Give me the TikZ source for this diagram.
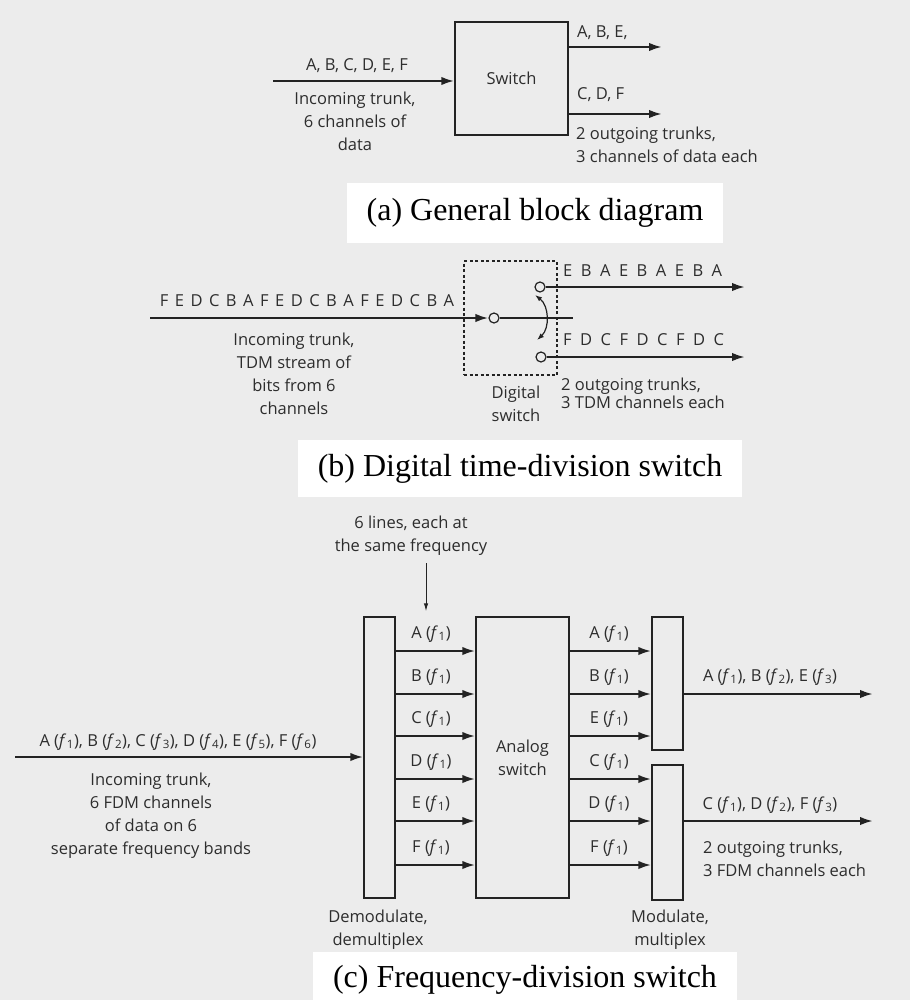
\documentclass[tikz,border=0pt]{standalone}
\usepackage{fontspec}
\setmainfont{Liberation Serif}
\newfontfamily\diagfont{Open Sans}
\usetikzlibrary{arrows.meta,positioning}

\definecolor{pagegray}{RGB}{236,236,236}
\definecolor{inkgray}{RGB}{35,35,35}
\definecolor{textgray}{RGB}{45,45,45}
\newcommand{\fq}[1]{(\textit{f}\kern0.6pt\textsubscript{#1})}

\begin{document}
\begin{tikzpicture}[x=1pt, y=-1pt,
    lbl/.style={font=\diagfont\fontsize{16.5}{23}\selectfont, text=textgray, inner sep=0pt},
    blk/.style={draw=inkgray, line width=1.5pt},
    trunk/.style={draw=inkgray, line width=2.3pt, -{Latex[length=13pt,width=8.5pt]}},
    wire/.style={draw=inkgray, line width=1.6pt},
    port/.style={circle, draw=inkgray, line width=1.2pt, fill=pagegray, minimum size=10pt, inner sep=0pt},
    capbox/.style={fill=white, inner sep=0pt, font=\fontsize{32}{34}\selectfont}]

\fill[pagegray] (0,0) rectangle (910,1000);
\useasboundingbox (0,0) rectangle (910,1000);

% (a) general block diagram
\node[blk, lbl, minimum width=113pt, minimum height=113pt] (sw) at (511.5,78.5) {Switch};
\coordinate (ain) at (273,81);
\coordinate (aout1) at (662,47);
\coordinate (aout2) at (662,114);
\draw[trunk] (ain) -- (ain -| sw.west);
\draw[trunk] (sw.east |- aout1) -- (aout1);
\draw[trunk] (sw.east |- aout2) -- (aout2);
\node[lbl] (ainlbl) at (357,66) {A, B, C, D, E, F};
\node[lbl, align=center] (aintxt) at (355,121) {Incoming trunk,\\6 channels of\\data};
\node[lbl, anchor=west] (aoutlbl1) at (577,33) {A, B, E,};
\node[lbl, anchor=west] (aoutlbl2) at (577,95) {C, D, F};
\node[lbl, anchor=west, align=left] (aouttxt) at (576,145) {2 outgoing trunks,\\3 channels of data each};
\node[capbox, minimum width=376pt, minimum height=60pt] (capa) at (535,213) {(a) General block diagram};

% (b) digital time-division switch
\node[draw=inkgray, line width=1.2pt, dash pattern=on 3pt off 2.5pt, minimum width=93pt, minimum height=114pt] (dsw) at (510.5,318) {};
\node[port] (bsrc) at (494,318) {};
\node[port] (btop) at (540,287) {};
\node[port] (bbot) at (541,357) {};
\coordinate (bin) at (150,318);
\coordinate (bpivot) at (573,318);
\coordinate (bout1) at (745,287);
\coordinate (bout2) at (745,357);
\draw[trunk] (bin) -- (bsrc.west);
\draw[wire] (bsrc.east) -- (bpivot);
\draw[trunk] (btop.east) -- (bout1);
\draw[trunk] (bbot.east) -- (bout2);
\coordinate (arctop) at (535,295);
\coordinate (arcbot) at (537,340);
\draw[wire, line width=1.2pt, {Latex[length=7pt,width=5pt]}-{Latex[length=7pt,width=5pt]}] (arctop) to[bend left=50] (arcbot);
\node[lbl] (bstream) at (307,301) {\spaceskip=6.5pt F E D C B A F E D C B A F E D C B A};
\node[lbl, anchor=west] (bbits1) at (563,271) {\spaceskip=8.5pt E B A E B A E B A};
\node[lbl, anchor=west] (bbits2) at (563,340) {\spaceskip=8.5pt F D C F D C F D C};
\node[lbl, align=center] (bintxt) at (294,374) {Incoming trunk,\\TDM stream of\\bits from 6\\channels};
\node[lbl, align=center] (dswtxt) at (516,404) {Digital\\switch};
\node[lbl, anchor=west, align=left, font=\diagfont\fontsize{16.5}{18}\selectfont] (bouttxt) at (561,393) {2 outgoing trunks,\\3 TDM channels each};
\node[capbox, minimum width=444pt, minimum height=57pt] (capb) at (520,468.5) {(b) Digital time-division switch};

% (c) frequency-division switch
\node[blk, minimum width=31pt, minimum height=281pt] (dmx) at (379.5,757.5) {};
\node[blk, lbl, minimum width=93pt, minimum height=281pt, align=center] (asw) at (522.5,757.5) {Analog\\switch};
\node[blk, minimum width=31pt, minimum height=133pt] (mxa) at (667.5,683.5) {};
\node[blk, minimum width=31pt, minimum height=135pt] (mxb) at (667.5,832.5) {};
\coordinate (cin) at (15,757);
\coordinate (cnote) at (426,563);
\coordinate (cout1) at (873,694);
\coordinate (cout2) at (873,821);
\draw[trunk] (cin) -- (cin -| dmx.west);
\draw[draw=inkgray, line width=1pt, -{Latex[length=8pt,width=4.5pt]}, shorten >=5pt] (cnote) -- (cnote |- dmx.north);
\foreach \y/\inl/\outl/\mx [count=\i] in {651/A/A/mxa, 694/B/B/mxa, 736/C/E/mxa, 779/D/C/mxb, 821/E/D/mxb, 865/F/F/mxb} {
  \draw[trunk] (dmx.east |- 0,\y) -- (asw.west |- 0,\y);
  \draw[trunk] (asw.east |- 0,\y) -- (\mx.west |- 0,\y);
  \node[lbl] (inl\i) at (431,\y-17) {\inl\ \fq{1}};
  \node[lbl] (outl\i) at (609,\y-17) {\outl\ \fq{1}};
}
\draw[trunk] (mxa.east |- cout1) -- (cout1);
\draw[trunk] (mxb.east |- cout2) -- (cout2);
\node[lbl, align=center] (cnotetxt) at (411,536) {6 lines, each at\\the same frequency};
\node[lbl] (cinlbl) at (178,742) {A \fq{1}, B \fq{2}, C \fq{3}, D \fq{4}, E \fq{5}, F \fq{6}};
\node[lbl, align=center] (cintxt) at (151,816) {Incoming trunk,\\6 FDM channels\\of data on 6\\separate frequency bands};
\node[lbl] (coutlbl1) at (770,677) {A \fq{1}, B \fq{2}, E \fq{3}};
\node[lbl] (coutlbl2) at (770,805) {C \fq{1}, D \fq{2}, F \fq{3}};
\node[lbl, anchor=west, align=left] (couttxt) at (703,859) {2 outgoing trunks,\\3 FDM channels each};
\node[lbl, align=center] (dmxtxt) at (378,930) {Demodulate,\\demultiplex};
\node[lbl, align=center] (mxtxt) at (670,930) {Modulate,\\multiplex};
\node[capbox, minimum width=424pt, minimum height=56pt] (capc) at (525,980) {(c) Frequency-division switch};
\end{tikzpicture}
\end{document}
